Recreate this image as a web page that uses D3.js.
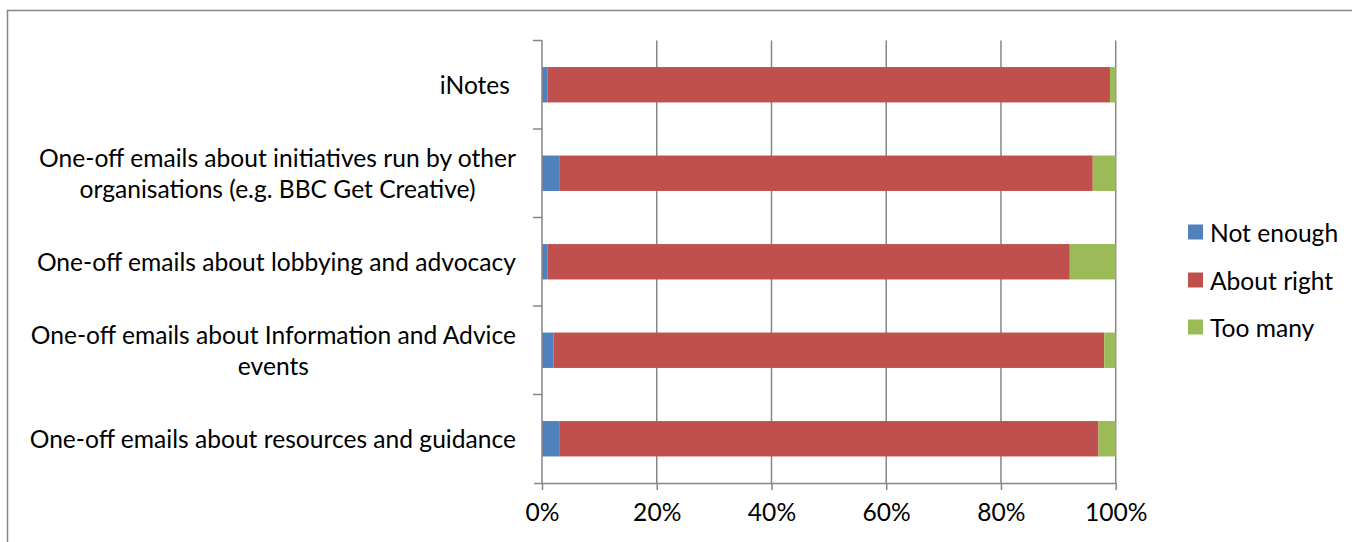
<!DOCTYPE html>
<html>
<head>
<meta charset="utf-8">
<script src="https://cdn.jsdelivr.net/npm/d3@7/dist/d3.min.js"></script>
<style>
  html, body { margin: 0; padding: 0; background: #fff; }
  svg text { font-family: Lato, "Open Sans", sans-serif; fill: #000; }
</style>
</head>
<body>
<svg id="chart" width="1352" height="542"></svg>
<script>
// Email categories, top to bottom
const categories = [
  "iNotes",
  "One-off emails about initiatives run by other organisations (e.g. BBC Get Creative)",
  "One-off emails about lobbying and advocacy",
  "One-off emails about Information and Advice events",
  "One-off emails about resources and guidance"
];
// Label lines as wrapped on the axis
const labelLines = [
  ["iNotes"],
  ["One-off emails about initiatives run by other", "organisations (e.g. BBC Get Creative)"],
  ["One-off emails about lobbying and advocacy"],
  ["One-off emails about Information and Advice", "events"],
  ["One-off emails about resources and guidance"]
];
// Share of responses (%)
const notEnough  = [1, 3, 1, 2, 3];
const aboutRight = [98, 93, 91, 96, 94];
const tooMany    = [1, 4, 8, 2, 3];

const seriesNames = ["Not enough", "About right", "Too many"];
const seriesColors = ["#4F81BD", "#C0504D", "#9BBB59"];
const xTicks = [0, 20, 40, 60, 80, 100];

const svg = d3.select("#chart");
const grey = "#868686";
const fontSize = 24.6;

// outer frame (top and left edges visible)
svg.append("path")
  .attr("d", "M7.5,542 V10.5 H1352")
  .attr("fill", "none").attr("stroke", grey).attr("stroke-width", 1.5);

const plot = { left: 542, right: 1115.7, top: 40.5, bottom: 483 };

const x = d3.scaleLinear().domain([0, 100]).range([plot.left, plot.right]);
const y = d3.scaleBand().domain(categories).range([plot.top, plot.bottom])
  .paddingInner(0.6).paddingOuter(0.3);

const rows = categories.map((c, i) => ({
  cat: c, "Not enough": notEnough[i], "About right": aboutRight[i], "Too many": tooMany[i]
}));
const stacked = d3.stack().keys(seriesNames)(rows);

// vertical gridlines
svg.append("g").selectAll("line").data(xTicks.slice(1)).join("line")
  .attr("x1", d => x(d)).attr("x2", d => x(d))
  .attr("y1", plot.top).attr("y2", plot.bottom)
  .attr("stroke", grey).attr("stroke-width", 1.5);

// bars
const g = svg.append("g");
stacked.forEach((layer, si) => {
  g.append("g").attr("fill", seriesColors[si])
    .selectAll("rect").data(layer).join("rect")
    .attr("x", d => x(d[0]))
    .attr("width", d => x(d[1]) - x(d[0]))
    .attr("y", d => y(d.data.cat))
    .attr("height", y.bandwidth());
});

// x axis
const xAxis = svg.append("g")
  .attr("transform", `translate(0,${plot.bottom})`)
  .call(d3.axisBottom(x).tickValues(xTicks).tickFormat(d => d + "%").tickSize(7).tickPadding(14));
xAxis.select(".domain").attr("stroke", grey).attr("stroke-width", 1.5)
  .attr("d", `M${plot.left - 8},0.5H${plot.right}`);
xAxis.selectAll(".tick line").attr("stroke", grey).attr("stroke-width", 1.5);
xAxis.selectAll(".tick text").attr("font-size", fontSize).attr("font-family", "Lato, sans-serif").attr("fill", "#000");

// y axis line and category separator ticks
const yAxisG = svg.append("g");
yAxisG.append("line")
  .attr("x1", plot.left).attr("x2", plot.left)
  .attr("y1", plot.top).attr("y2", plot.bottom)
  .attr("stroke", grey).attr("stroke-width", 1.5);
const bounds = d3.range(categories.length + 1).map(i => plot.top + i * (plot.bottom - plot.top) / categories.length);
yAxisG.selectAll("line.sep").data(bounds.slice(0, -1)).join("line")
  .attr("class", "sep")
  .attr("x1", plot.left - 9).attr("x2", plot.left)
  .attr("y1", d => d).attr("y2", d => d)
  .attr("stroke", grey).attr("stroke-width", 1.5);

// category labels: wrapped lines centred within a right-aligned block
const lineH = 31;
const labelRight = 516;
categories.forEach((c, i) => {
  const lines = labelLines[i];
  const cy = (bounds[i] + bounds[i + 1]) / 2;
  const t = svg.append("text").attr("font-size", fontSize);
  const tsp = lines.map((ln, k) =>
    t.append("tspan").text(ln)
      .attr("y", cy + (k - (lines.length - 1) / 2) * lineH)
      .attr("dominant-baseline", "central"));
  const widths = tsp.map(s => s.node().getComputedTextLength());
  const maxW = d3.max(widths);
  const right = lines.length === 1 && lines[0].length < 10 ? labelRight - 6 : labelRight;
  const centerX = right - maxW / 2;
  tsp.forEach(s => s.attr("x", centerX).attr("text-anchor", "middle"));
});

// legend
const legend = svg.append("g");
const legendY = [232, 280, 327];
seriesNames.forEach((name, i) => {
  legend.append("rect")
    .attr("x", 1188).attr("y", legendY[i] - 7.5)
    .attr("width", 15).attr("height", 15)
    .attr("fill", seriesColors[i]);
  legend.append("text")
    .attr("x", 1210).attr("y", legendY[i])
    .attr("dominant-baseline", "central")
    .attr("font-size", fontSize)
    .text(name);
});
</script>
</body>
</html>
